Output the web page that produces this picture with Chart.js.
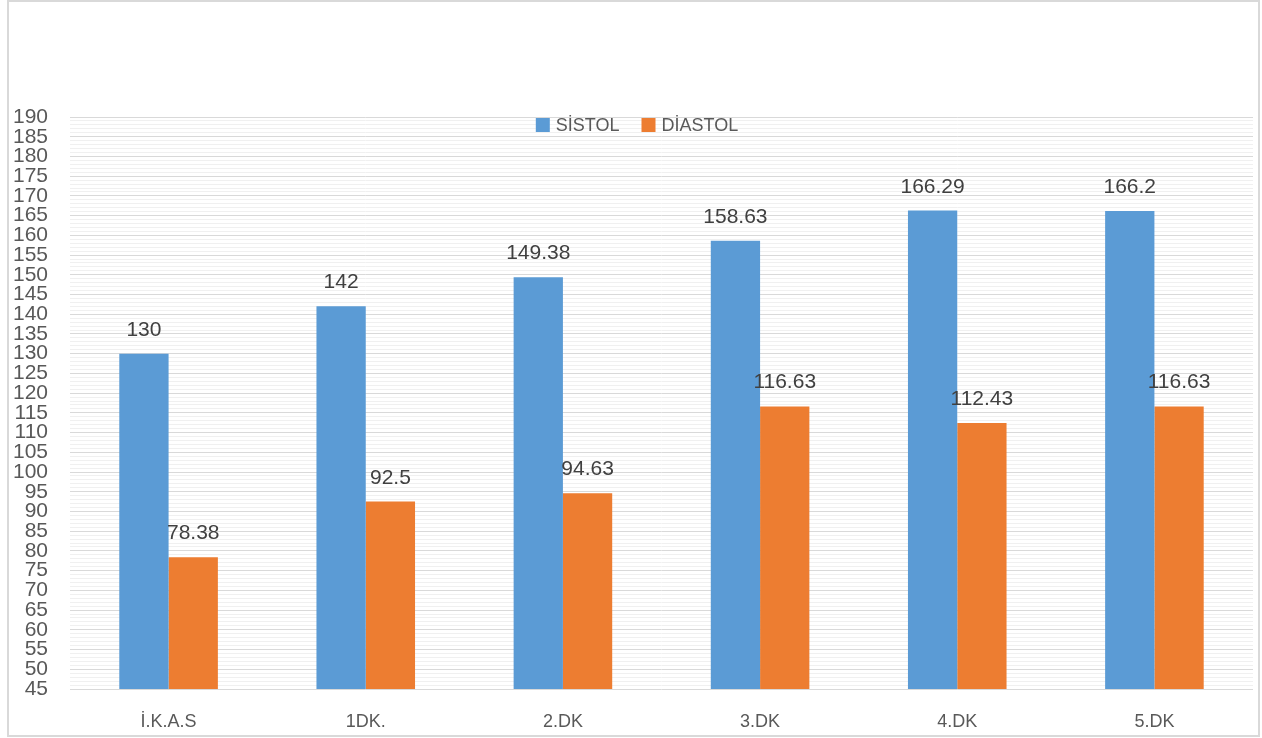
<!DOCTYPE html>
<html>
<head>
<meta charset="utf-8">
<script src="https://cdn.jsdelivr.net/npm/chart.js@4/dist/chart.umd.min.js"></script>
<style>
	body { margin: 0; background: #fff; }
	#wrap { width: 1262px; height: 738px; position: relative; }
</style>
</head>
<body>
<div id="wrap"><canvas id="bpChart"></canvas></div>
<script>
var categories = ['İ.K.A.S', '1DK.', '2.DK', '3.DK', '4.DK', '5.DK'];
var sistol = [130, 142, 149.38, 158.63, 166.29, 166.2];
var diastol = [78.38, 92.5, 94.63, 116.63, 112.43, 116.63];
var yMin = 45;
var yMax = 190;

var fontFamily = '"Liberation Sans", Arial, sans-serif';

// value labels above each bar
var valueLabels = {
	id: 'valueLabels',
	afterDatasetsDraw: function(chart) {
		var ctx = chart.ctx;
		ctx.save();
		ctx.font = '21px ' + fontFamily;
		ctx.fillStyle = '#404040';
		ctx.textAlign = 'center';
		ctx.textBaseline = 'alphabetic';
		chart.data.datasets.forEach(function(ds, i) {
			var meta = chart.getDatasetMeta(i);
			meta.data.forEach(function(bar, j) {
				ctx.fillText(String(ds.data[j]), bar.x, bar.y - 18);
			});
		});
		ctx.restore();
	}
};

// legend sits inside the plot, over the grid
var innerLegend = {
	id: 'innerLegend',
	afterDatasetsDraw: function(chart) {
		var ctx = chart.ctx;
		ctx.save();
		ctx.font = '18px ' + fontFamily;
		ctx.textBaseline = 'middle';
		var box = 14, gap = 6, spacing = 22;
		var items = chart.data.datasets.map(function(ds) {
			return { text: ds.label, color: ds.backgroundColor, w: box + gap + ctx.measureText(ds.label).width };
		});
		var total = items.reduce(function(s, it) { return s + it.w; }, 0) + spacing * (items.length - 1);
		var x = chart.width / 2 - total / 2 + 6;
		var y = 125;
		items.forEach(function(it) {
			ctx.fillStyle = it.color;
			ctx.fillRect(x, y - box / 2, box, box);
			ctx.fillStyle = '#595959';
			ctx.fillText(it.text, x + box + gap, y + 1);
			x += it.w + spacing;
		});
		ctx.restore();
	}
};

// light frame round the whole chart
var outerFrame = {
	id: 'outerFrame',
	afterDraw: function(chart) {
		var ctx = chart.ctx;
		ctx.save();
		ctx.strokeStyle = '#d9d9d9';
		ctx.lineWidth = 2;
		ctx.strokeRect(8, 1, chart.width - 11, chart.height - 3);
		ctx.restore();
	}
};

var bpChart = new Chart(document.getElementById('bpChart'), {
	type: 'bar',
	data: {
		labels: categories,
		datasets: [
		{
			label: 'SİSTOL',
			backgroundColor: '#5B9BD5',
			borderWidth: 0,
			data: sistol
		},
		{
			label: 'DİASTOL',
			backgroundColor: '#ED7D31',
			borderWidth: 0,
			data: diastol
		}
		]
	},
	options: {
		responsive: true,
		maintainAspectRatio: false,
		animation: false,
		layout: {
			padding: { left: 0, right: 9, top: 117, bottom: 0 }
		},
		datasets: {
			bar: { barPercentage: 1.0, categoryPercentage: 0.5 }
		},
		plugins: {
			legend: { display: false },
			tooltip: { enabled: false },
			title: { display: false }
		},
		scales: {
			x: {
				grid: { display: false, drawTicks: false },
				border: { display: false },
				ticks: {
					color: '#595959',
					font: { family: fontFamily, size: 18 },
					padding: 22
				},
				afterFit: function(scale) { scale.height = 49; }
			},
			y: {
				min: yMin,
				max: yMax,
				grid: {
					drawTicks: false,
					color: function(c) {
						return (c.tick && c.tick.value % 5 === 0) ? '#d9d9d9' : '#f0f0f0';
					}
				},
				border: { display: false },
				ticks: {
					stepSize: 1,
					autoSkip: false,
					color: '#595959',
					font: { family: fontFamily, size: 21 },
					padding: 22,
					callback: function(v) { return v % 5 === 0 ? v : ''; }
				},
				afterFit: function(scale) { scale.width = 70; }
			}
		}
	},
	plugins: [valueLabels, innerLegend, outerFrame]
});

window.bpChart = bpChart;
</script>
</body>
</html>
